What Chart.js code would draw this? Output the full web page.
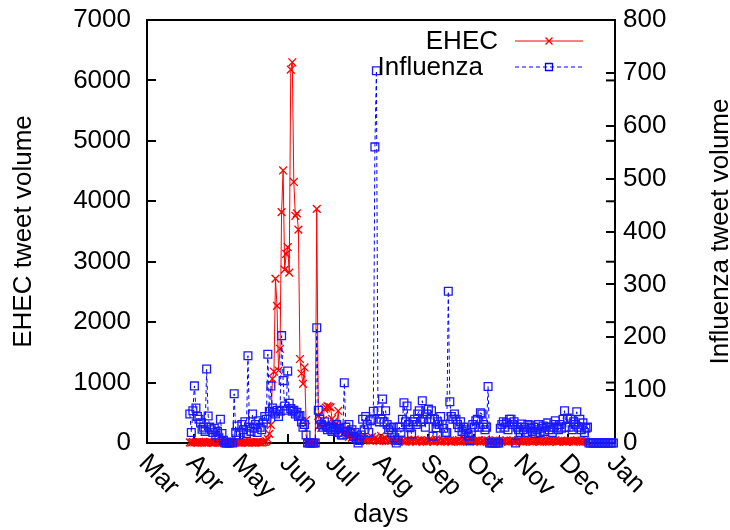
<!DOCTYPE html>
<html>
<head>
<meta charset="utf-8">
<script src="https://cdn.jsdelivr.net/npm/chart.js@4.4.0/dist/chart.umd.min.js"></script>
<style>
  body { margin: 0; background: #fff; }
  canvas { display: block; }
</style>
</head>
<body>
<canvas id="tweetChart" width="730" height="530"></canvas>
<script>
// days are counted from 1 March (day 0), both series start on 29 March
const firstDay = 28;
const monthNames = ['Mar', 'Apr', 'May', 'Jun', 'Jul', 'Aug', 'Sep', 'Oct', 'Nov', 'Dec', 'Jan'];
const monthStarts = [0, 31, 61, 92, 122, 153, 184, 214, 245, 275, 306];
const rightAxisTitle = 'Influenza tweet volume';

// daily EHEC tweets (29 Mar .. 14 Dec)
const ehecVolume = [
  10, 5, 15,
  8, 12, 5, 20, 10, 6, 15, 9, 4, 11, 18, 7, 3, 10, 14, 6, 9, 12, 5, 8, 15, 10, 4, 7, 13, 9, 6, 11, 8, 5,
  10, 6, 12, 8, 15, 5, 9, 14, 7, 11, 6, 13, 8, 10, 5, 12, 20, 30, 66, 150, 300, 1060, 1180, 2720, 2270, 1200, 1560, 3820, 4510, 2870, 3130,
  3240, 2820, 6180, 6300, 4320, 3760, 3800, 3530, 1390, 1150, 980, 1250, 380, 0, 0, 0, 0, 0, 0, 3875, 450, 300, 250, 380, 560, 585, 610, 600, 590, 400,
  350, 300, 250, 530, 250, 200, 150, 220, 130, 180, 100, 150, 90, 120, 70, 110, 60, 80, 100, 50, 70, 40, 60, 90, 40, 100, 50, 80, 40, 60, 30,
  120, 60, 40, 80, 50, 30, 70, 40, 60, 30, 50, 25, 45, 60, 30, 40, 20, 50, 35, 25, 45, 30, 55, 20, 40, 30, 50, 25, 35, 45, 20,
  40, 30, 50, 25, 35, 60, 30, 45, 20, 40, 35, 25, 50, 30, 45, 20, 35, 40, 25, 30, 50, 20, 35, 45, 25, 30, 40, 20, 35, 30,
  25, 40, 30, 45, 20, 35, 30, 50, 25, 40, 20, 30, 35, 25, 45, 30, 20, 40, 25, 35, 30, 45, 20, 30, 40, 25, 35, 20, 30, 45, 25,
  30, 20, 40, 25, 35, 30, 45, 20, 30, 40, 25, 35, 20, 30, 45, 25, 30, 40, 20, 35, 25, 30, 45, 20, 35, 30, 40, 25, 30, 20,
  35, 25, 40, 30, 20, 35, 45, 25, 30, 40, 20, 30, 25, 15
];

// daily Influenza tweets (29 Mar .. 31 Dec)
const fluVolume = [
  55, 20, 61,
  108, 66, 50, 45, 38, 26, 30, 22, 140, 51, 30, 25, 20, 28, 15, 22, 10, 45, 18, 5, 0, 0, 0, 0, 2, 0, 93, 20, 32, 15,
  20, 35, 25, 40, 18, 165, 30, 22, 55, 28, 35, 20, 42, 30, 25, 38, 50, 45, 168, 60, 108, 66, 58, 55, 62, 50, 60, 203, 118, 70, 62,
  136, 75, 65, 60, 62, 55, 58, 50, 52, 40, 30, 35, 15, 0, 0, 0, 0, 0, 0, 218, 62, 45, 35, 30, 40, 32, 25, 30, 28, 22,
  30, 25, 35, 20, 28, 15, 15, 114, 30, 22, 35, 18, 25, 12, 20, 8, 0, 5, 15, 45, 25, 50, 35, 20, 42, 45, 60, 560, 704, 61, 40,
  45, 83, 40, 61, 35, 25, 29, 20, 30, 10, 0, 5, 30, 20, 45, 76, 40, 70, 35, 29, 17, 40, 45, 35, 55, 61, 40, 80, 45, 30, 55,
  64, 45, 61, 13, 45, 29, 40, 35, 50, 35, 28, 20, 20, 287, 78, 50, 45, 55, 45, 35, 29, 40, 22, 30, 18, 25, 13, 5, 20, 35,
  30, 42, 45, 30, 57, 55, 35, 25, 30, 107, 0, 0, 0, 0, 0, 0, 0, 28, 35, 40, 30, 38, 25, 45, 45, 35, 40, 0, 30, 25, 20,
  36, 25, 30, 20, 35, 34, 28, 22, 30, 18, 25, 35, 20, 28, 32, 22, 30, 38, 25, 30, 20, 35, 42, 30, 25, 35, 28, 45, 61, 30,
  47, 30, 45, 25, 40, 35, 59, 30, 45, 25, 38, 20, 28, 30, 0, 0, 0, 0, 0, 0, 0, 0, 0, 0, 0, 0, 0, 0, 0, 0, 0
];

const FONT = '"Liberation Sans", Arial, Helvetica, sans-serif';
const FONT_SIZE = 26;
Chart.defaults.font.family = FONT;
Chart.defaults.color = '#000';

function toPoints(values) {
  return values.map((v, i) => ({ x: firstDay + i, y: v }));
}

// fixed box sizes so the plot frame lands where the original one is
function fixSize(prop, size) {
  return s => {
    s[prop] = size;
    s.paddingTop = 0; s.paddingBottom = 0; s.paddingLeft = 0; s.paddingRight = 0;
  };
}

// gnuplot style extras: frame, mirrored ticks, rotated month labels, legend, right title
const gnuplotLook = {
  id: 'gnuplotLook',
  beforeDatasetsDraw(chart) {
    const { ctx, chartArea: a, scales } = chart;
    ctx.save();
    ctx.strokeStyle = '#000';
    ctx.lineWidth = 2;
    ctx.strokeRect(a.left, a.top, a.right - a.left, a.bottom - a.top);
    scales.y.ticks.forEach(t => {
      const py = scales.y.getPixelForValue(t.value);
      ctx.beginPath();
      ctx.moveTo(a.right, py);
      ctx.lineTo(a.right - 9, py);
      ctx.stroke();
    });
    ctx.restore();
  },
  afterDraw(chart) {
    const { ctx, chartArea: a, scales } = chart;
    ctx.save();
    ctx.fillStyle = '#000';
    ctx.font = FONT_SIZE + 'px ' + FONT;

    // month labels, turned 45 degrees clockwise
    ctx.textAlign = 'left';
    ctx.textBaseline = 'top';
    monthStarts.forEach((d, i) => {
      const px = scales.x.getPixelForValue(d);
      ctx.save();
      ctx.translate(px + 5, a.bottom + 7);
      ctx.rotate(Math.PI / 4);
      ctx.fillText(monthNames[i], 0, 0);
      ctx.restore();
    });

    // right axis title, read bottom to top
    ctx.save();
    ctx.translate(728, (a.top + a.bottom) / 2);
    ctx.rotate(-Math.PI / 2);
    ctx.textAlign = 'center';
    ctx.textBaseline = 'alphabetic';
    ctx.fillText(rightAxisTitle, 0, 0);
    ctx.restore();

    // legend
    const rows = [
      { ds: chart.data.datasets[0], y: 41, textRight: 498 },
      { ds: chart.data.datasets[1], y: 67, textRight: 483 }
    ];
    ctx.textAlign = 'right';
    ctx.textBaseline = 'middle';
    rows.forEach(r => {
      ctx.fillStyle = '#000';
      ctx.fillText(r.ds.label, r.textRight, r.y + 1);
      ctx.strokeStyle = r.ds.borderColor;
      ctx.lineWidth = 1;
      ctx.setLineDash(r.ds.borderDash || []);
      ctx.beginPath();
      ctx.moveTo(515, r.y);
      ctx.lineTo(583, r.y);
      ctx.stroke();
      ctx.setLineDash([]);
      const mx = 549, s = 3.5;
      ctx.lineWidth = r.ds.pointBorderWidth;
      ctx.beginPath();
      if (r.ds.pointStyle === 'rect') {
        ctx.rect(mx - s, r.y - s, 2 * s, 2 * s);
      } else {
        ctx.moveTo(mx - s, r.y - s); ctx.lineTo(mx + s, r.y + s);
        ctx.moveTo(mx - s, r.y + s); ctx.lineTo(mx + s, r.y - s);
      }
      ctx.stroke();
    });
    ctx.restore();
  }
};

const tickGrid = { drawOnChartArea: false, tickLength: -9, color: '#000', lineWidth: 2 };

new Chart(document.getElementById('tweetChart'), {
  type: 'line',
  data: {
    datasets: [{
      label: 'EHEC',
      data: toPoints(ehecVolume),
      yAxisID: 'y',
      borderColor: '#ff0000',
      borderWidth: 1,
      pointStyle: 'crossRot',
      pointRadius: 5.5,
      pointBorderColor: '#ff0000',
      pointBorderWidth: 1.3,
      pointBackgroundColor: 'rgba(0,0,0,0)',
      tension: 0,
      clip: false,
      order: 2
    }, {
      label: 'Influenza',
      data: toPoints(fluVolume),
      yAxisID: 'y2',
      borderColor: '#0000ff',
      borderWidth: 1,
      borderDash: [4, 3],
      pointStyle: 'rect',
      pointRadius: 5.5,
      pointBorderColor: '#1a1aff',
      pointBorderWidth: 1.3,
      pointBackgroundColor: 'rgba(0,0,0,0)',
      tension: 0,
      clip: false,
      order: 1
    }]
  },
  options: {
    responsive: false,
    animation: false,
    layout: { padding: { top: 20, left: 0, right: 0, bottom: 0 } },
    plugins: { legend: { display: false }, tooltip: { enabled: false } },
    scales: {
      x: {
        type: 'linear',
        min: 0,
        max: 306,
        afterBuildTicks: s => { s.ticks = monthStarts.map(v => ({ value: v })); },
        afterFit: fixSize('height', 87),
        ticks: { display: false },
        grid: tickGrid,
        border: { display: false },
        title: { display: true, text: 'days', font: { size: FONT_SIZE }, padding: { top: 0, bottom: 0 } }
      },
      y: {
        position: 'left',
        min: 0,
        max: 7000,
        afterFit: fixSize('width', 147),
        ticks: { stepSize: 1000, font: { size: FONT_SIZE }, padding: 25, callback: v => String(v) },
        grid: tickGrid,
        border: { display: false },
        title: { display: true, text: 'EHEC tweet volume', font: { size: FONT_SIZE }, padding: { top: 8, bottom: 0 } }
      },
      y2: {
        position: 'right',
        min: 0,
        max: 800,
        afterFit: fixSize('width', 115),
        ticks: { stepSize: 100, font: { size: FONT_SIZE }, padding: 17, callback: v => String(v) },
        grid: tickGrid,
        border: { display: false }
      }
    }
  },
  plugins: [gnuplotLook]
});
</script>
</body>
</html>
